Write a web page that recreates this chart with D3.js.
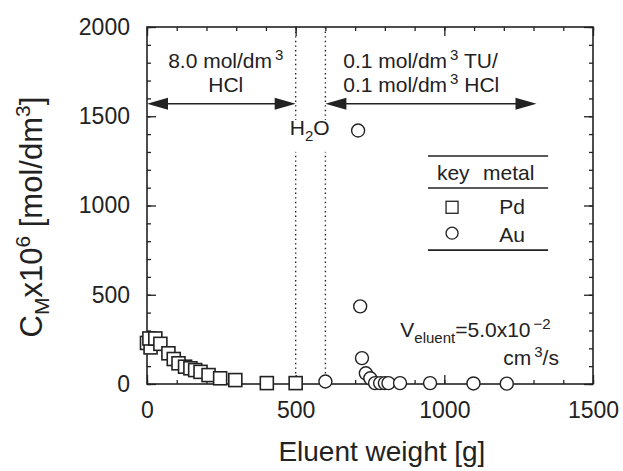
<!DOCTYPE html>
<html>
<head>
<meta charset="utf-8">
<script src="https://cdn.jsdelivr.net/npm/d3@7"></script>
<style>
  body { margin: 0; background: #fff; }
  svg { font-family: "Liberation Sans", Arial, sans-serif; }
</style>
</head>
<body>
<svg width="623" height="471"></svg>
<script>
// Pd (squares) and Au (circles): [eluent weight g, C_M x10^6 mol/dm3]
var pdData = [[0, 230], [12, 205], [8, 255], [28, 255], [45, 225], [72, 172], [90, 140],
  [106, 116], [128, 97], [146, 88], [162, 78], [180, 68], [207, 50], [246, 32],
  [297, 22], [403, 5], [500, 5]];
var auData = [[600, 14], [710, 1420], [717, 435], [723, 145], [736, 60], [751, 32],
  [767, 5], [784, 5], [800, 5], [812, 5], [851, 5], [952, 5], [1098, 3], [1210, 2]];

var xMajor = [0, 500, 1000, 1500];
var yMajor = [0, 500, 1000, 1500, 2000];
var boundaries = [500, 600];
var arrowY = 1570;

var svg = d3.select("svg"),
    margin = {top: 27, right: 30, bottom: 87, left: 147},
    width = 623 - margin.left - margin.right,
    height = 471 - margin.top - margin.bottom;

var x = d3.scaleLinear().domain([0, 1500]).range([0, width]);
var y = d3.scaleLinear().domain([0, 2000]).range([height, 0]);

var g = svg.append("g").attr("transform", "translate(" + margin.left + "," + margin.top + ")");
var ink = "#222";

// dotted boundaries between eluents
g.selectAll(".bound")
  .data(boundaries)
  .enter().append("line")
    .attr("x1", function(d) { return x(d); })
    .attr("x2", function(d) { return x(d); })
    .attr("y1", y(2000))
    .attr("y2", y(0))
    .attr("stroke", ink)
    .attr("stroke-width", 1.4)
    .attr("stroke-dasharray", "1.4,3.2");

// white patch so the H2O label sits over the dotted lines
g.append("rect").attr("x", x(478)).attr("y", y(1480)).attr("width", 46).attr("height", 32).attr("fill", "#fff");

// axes, ticks inward, mirrored on top/right
function addAxis(axis, tf, labels) {
  var a = g.append("g").attr("transform", tf).call(axis);
  a.select(".domain").remove();
  a.selectAll("line").attr("stroke", ink).attr("stroke-width", 1.3);
  a.selectAll("text").attr("fill", ink).style("font-size", "23px");
  if (!labels) a.selectAll("text").remove();
  return a;
}
var none = function() { return ""; };
var fmt = d3.format("d");
addAxis(d3.axisBottom(x).ticks(15).tickSize(-4).tickFormat(none), "translate(0," + height + ")", false);
addAxis(d3.axisBottom(x).tickValues(xMajor).tickSize(-9).tickPadding(18).tickFormat(fmt), "translate(0," + height + ")", true);
addAxis(d3.axisTop(x).ticks(15).tickSize(-4).tickFormat(none), "translate(0,0)", false);
addAxis(d3.axisTop(x).tickValues(xMajor).tickSize(-9), "translate(0,0)", false);
addAxis(d3.axisLeft(y).ticks(20).tickSize(-4).tickFormat(none), "translate(0,0)", false);
addAxis(d3.axisLeft(y).tickValues(yMajor).tickSize(-9).tickPadding(17).tickFormat(fmt), "translate(0,0)", true);
addAxis(d3.axisRight(y).ticks(20).tickSize(-4).tickFormat(none), "translate(" + width + ",0)", false);
addAxis(d3.axisRight(y).tickValues(yMajor).tickSize(-9), "translate(" + width + ",0)", false);

g.append("rect")
  .attr("width", width).attr("height", height)
  .attr("fill", "none").attr("stroke", ink).attr("stroke-width", 1.6);

// double arrows for eluent ranges
function dblArrow(x0, x1) {
  var ya = y(arrowY), hl = 21, hw = 6;
  g.append("line").attr("x1", x(x0) + 4).attr("x2", x(x1) - 4)
    .attr("y1", ya).attr("y2", ya).attr("stroke", ink).attr("stroke-width", 1.6);
  g.append("path")
    .attr("d", "M" + x(x0) + "," + ya + "l" + hl + "," + (-hw) + "v" + (2 * hw) + "z")
    .attr("fill", ink);
  g.append("path")
    .attr("d", "M" + x(x1) + "," + ya + "l" + (-hl) + "," + (-hw) + "v" + (2 * hw) + "z")
    .attr("fill", ink);
}
dblArrow(0, 500);
dblArrow(600, 1310);

function supText(sel, parts) {
  parts.forEach(function(p) {
    var t = sel.append("tspan").text(p[0]);
    if (p[1] == "sup") t.attr("dy", -8).attr("dx", 3).style("font-size", "15px");
    if (p[1] == "sub") t.attr("dy", 6).style("font-size", "15px");
    if (p[1] == "back") t.attr("dy", p[2]);
  });
}

var ann = g.append("g").attr("fill", ink).style("font-size", "21px");
supText(ann.append("text").attr("x", x(265)).attr("y", y(1768)).attr("text-anchor", "middle"),
  [["8.0 mol/dm"], ["3", "sup"]]);
ann.append("text").attr("x", x(265)).attr("y", y(1634)).attr("text-anchor", "middle").text("HCl");
supText(ann.append("text").attr("x", x(660)).attr("y", y(1768)),
  [["0.1 mol/dm"], ["3", "sup"], [" TU/", "back", 8]]);
supText(ann.append("text").attr("x", x(660)).attr("y", y(1634)),
  [["0.1 mol/dm"], ["3", "sup"], [" HCl", "back", 8]]);
supText(ann.append("text").attr("x", x(480)).attr("y", y(1393)),
  [["H"], ["2", "sub"], ["O", "back", -6]]);
supText(ann.append("text").attr("x", x(852)).attr("y", y(263)),
  [["V"], ["eluent", "sub"], ["=5.0x10", "back", -6], ["\u22122", "sup"]]);
supText(ann.append("text").attr("x", x(1198)).attr("y", y(106)),
  [["cm"], ["3", "sup"], ["/s", "back", 8]]);

// legend
var leg = g.append("g");
[1277, 1098, 750].forEach(function(v) {
  leg.append("line").attr("x1", x(945)).attr("x2", x(1349))
    .attr("y1", y(v)).attr("y2", y(v)).attr("stroke", ink).attr("stroke-width", 1.6);
});
leg.append("text").attr("x", x(975)).attr("y", y(1141)).attr("fill", ink).style("font-size", "21px").text("key");
leg.append("text").attr("x", x(1130)).attr("y", y(1141)).attr("fill", ink).style("font-size", "21px").text("metal");
leg.append("rect").attr("x", x(1026) - 6).attr("y", y(990) - 6).attr("width", 12).attr("height", 12)
  .attr("fill", "#fff").attr("stroke", ink).attr("stroke-width", 1.3);
leg.append("circle").attr("cx", x(1026)).attr("cy", y(845)).attr("r", 6)
  .attr("fill", "#fff").attr("stroke", ink).attr("stroke-width", 1.3);
leg.append("text").attr("x", x(1228)).attr("y", y(951)).attr("text-anchor", "middle")
  .attr("fill", ink).style("font-size", "21px").text("Pd");
leg.append("text").attr("x", x(1228)).attr("y", y(795)).attr("text-anchor", "middle")
  .attr("fill", ink).style("font-size", "21px").text("Au");

// data markers
var s = 13;
g.selectAll(".pd")
  .data(pdData)
  .enter().append("rect")
    .attr("x", function(d) { return x(d[0]) - s / 2; })
    .attr("y", function(d) { return y(d[1]) - s / 2; })
    .attr("width", s).attr("height", s)
    .attr("fill", "#fff").attr("stroke", ink).attr("stroke-width", 1.6);

g.selectAll(".au")
  .data(auData)
  .enter().append("circle")
    .attr("cx", function(d) { return x(d[0]); })
    .attr("cy", function(d) { return y(d[1]); })
    .attr("r", 6.5)
    .attr("fill", "#fff").attr("stroke", ink).attr("stroke-width", 1.4);

// axis titles
svg.append("text")
  .attr("x", margin.left + x(790)).attr("y", 461)
  .attr("text-anchor", "middle").attr("fill", ink).style("font-size", "28px")
  .text("Eluent weight [g]");

var yt = svg.append("text")
  .attr("transform", "translate(42," + (margin.top + y(935)) + ") rotate(-90)")
  .attr("text-anchor", "middle").attr("fill", ink).style("font-size", "31px");
yt.append("tspan").text("C");
yt.append("tspan").text("M").attr("dy", 7).style("font-size", "21px");
yt.append("tspan").text("x10").attr("dy", -7);
yt.append("tspan").text("6").attr("dy", -12).style("font-size", "21px");
yt.append("tspan").text(" [mol/dm").attr("dy", 12);
yt.append("tspan").text("3").attr("dy", -12).style("font-size", "21px");
yt.append("tspan").text("]").attr("dy", 12);
</script>
</body>
</html>
